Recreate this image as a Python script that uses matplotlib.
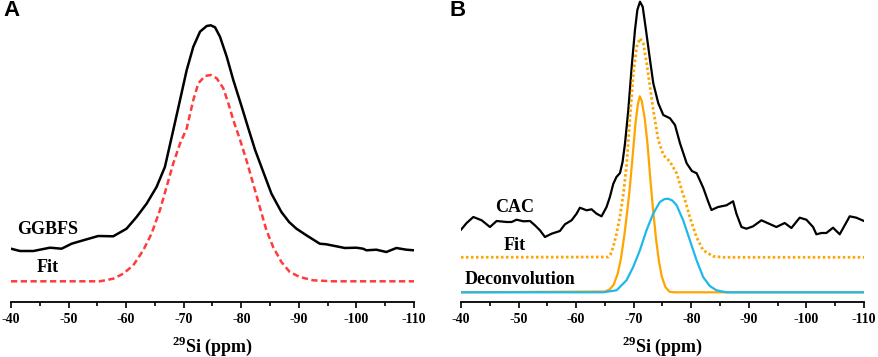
import numpy as np
import matplotlib
matplotlib.use("Agg")
import matplotlib.pyplot as plt

# ---- panel A : GGBFS ----
ggbfs_ppm = [-40.0, -41.56, -43.88, -46.77, -48.79, -50.53, -52.55, -55.16, -57.76, -60.07,
             -61.81, -63.55, -65.28, -66.73, -68.19, -69.36, -70.52, -71.67, -72.83, -73.99,
             -74.69, -75.44, -76.30, -77.47, -78.61, -80.07, -81.22, -82.40, -83.50, -85.24,
             -86.97, -88.30, -89.58, -91.31, -93.63, -94.78, -96.52, -97.97, -99.99, -101.15,
             -101.73, -103.46, -105.20, -106.94, -108.67, -110.0]
ggbfs_int = [53.3, 51.0, 51.0, 54.3, 53.3, 58.3, 61.7, 66.0, 65.7, 73.3,
             85.0, 98.3, 115.0, 135.0, 172.0, 202.0, 232.0, 255.3, 270.3, 276.0,
             276.7, 274.7, 265.3, 245.3, 222.0, 195.3, 173.7, 152.0, 135.0, 108.3,
             90.0, 80.0, 73.3, 66.7, 58.3, 57.7, 55.7, 54.0, 54.3, 53.3,
             51.7, 52.3, 50.0, 54.0, 52.3, 51.7]

fitA_ppm = [-40.0, -55.45, -57.76, -59.50, -61.23, -62.97, -64.41, -65.86, -67.02, -68.17,
            -69.33, -70.52, -71.67, -72.54, -73.70, -74.69, -75.73, -76.88, -77.75, -78.61,
            -79.20, -79.74, -80.90, -82.06, -83.21, -84.37, -85.53, -86.97, -88.42, -90.16,
            -92.47, -95.94, -110.0]
fitA_int = [20.7, 20.7, 23.3, 28.3, 36.7, 51.7, 68.3, 91.7, 115.0, 138.3,
            158.0, 173.7, 202.0, 218.7, 226.0, 227.0, 223.7, 213.7, 198.7, 182.0,
            172.0, 163.0, 141.7, 118.3, 95.0, 71.7, 55.0, 40.0, 30.0, 25.0,
            21.7, 20.7, 20.7]

# ---- panel B : CAC ----
cac_ppm = [-40.0, -40.98, -42.14, -43.59, -45.03, -46.19, -47.93, -48.79, -49.66, -50.82,
           -51.98, -52.84, -53.71, -54.58, -55.74, -57.18, -58.05, -59.21, -60.07, -60.65,
           -61.81, -62.68, -63.55, -64.41, -65.28, -65.86, -66.44, -67.00, -67.62, -68.06,
           -68.49, -69.06, -69.65, -70.22, -70.63, -71.09, -71.56, -72.13, -72.83, -73.40,
           -74.27, -75.14, -76.30, -77.17, -78.04, -79.20, -80.10, -80.94, -82.09, -82.96,
           -83.50, -84.66, -86.11, -87.26, -87.84, -88.71, -89.58, -90.74, -92.18, -94.78,
           -96.23, -97.39, -98.83, -99.99, -101.15, -101.73, -102.60, -103.46, -104.62, -105.78,
           -107.52, -108.67, -110.0]
cac_int = [72.3, 79.0, 85.0, 81.7, 75.0, 81.0, 80.0, 80.0, 82.3, 80.7,
           81.0, 76.7, 71.7, 65.0, 68.3, 71.0, 77.7, 81.7, 88.3, 94.3,
           91.7, 92.7, 88.3, 85.7, 95.0, 105.0, 118.0, 125.0, 129.0, 140.0,
           158.7, 192.0, 235.3, 272.0, 292.0, 300.3, 295.3, 272.0, 242.0, 218.7,
           198.7, 187.0, 183.7, 177.0, 158.7, 138.7, 131.0, 128.7, 114.0, 100.0,
           92.0, 95.0, 96.7, 100.7, 88.3, 75.0, 73.3, 75.7, 81.7, 75.0,
           79.0, 74.0, 84.3, 82.3, 75.0, 67.7, 69.0, 69.0, 74.3, 67.7,
           85.7, 84.3, 81.0]

fitB_ppm = [-40.0, -65.57, -66.00, -66.44, -67.00, -67.59, -68.20, -68.78, -69.36, -69.94,
            -70.52, -71.09, -71.67, -72.25, -72.83, -73.40, -74.27, -75.14, -76.30, -77.46,
            -78.33, -78.91, -79.74, -80.90, -82.06, -83.79, -85.53, -110.0]
fitB_int = [44.7, 45.0, 48.0, 55.0, 68.0, 85.0, 108.0, 138.0, 185.3, 228.7,
            255.3, 263.7, 258.7, 238.7, 215.3, 192.0, 162.0, 147.0, 140.3, 128.7,
            112.0, 102.0, 85.0, 65.0, 51.7, 45.7, 44.7, 44.7]

q2_ppm = [-40.0, -65.0, -65.8, -66.5, -67.2, -67.8, -68.4, -68.9, -69.3, -69.8,
          -70.3, -70.7, -71.05, -71.4, -71.9, -72.4, -72.9, -73.4, -73.9, -74.4,
          -74.9, -75.5, -76.2, -77.0, -110.0]
q2_int = [9.7, 10.5, 12.5, 17.0, 28.0, 44.0, 68.0, 92.0, 113.0, 145.0,
          178.0, 197.0, 205.7, 201.0, 184.0, 158.0, 122.0, 90.0, 62.0, 40.0,
          25.0, 15.0, 10.3, 9.7, 9.7]

q3_ppm = [-40.0, -64.70, -67.02, -68.75, -69.91, -71.07, -72.22, -73.38, -74.54, -75.30,
          -75.98, -76.70, -77.43, -78.59, -79.74, -80.90, -82.06, -83.21, -84.37, -86.11, -110.0]
q3_int = [9.7, 9.7, 11.7, 21.7, 35.0, 51.7, 71.7, 88.3, 100.0, 102.8,
          103.3, 101.5, 97.0, 81.7, 62.0, 42.0, 25.0, 16.0, 11.7, 9.7, 9.7]

xticks = [-40, -50, -60, -70, -80, -90, -100, -110]

plt.rcParams['font.family'] = 'Liberation Serif'
plt.rcParams['font.weight'] = 'bold'
plt.rcParams['axes.labelweight'] = 'bold'
plt.rcParams['axes.unicode_minus'] = False
plt.rcParams['mathtext.fontset'] = 'custom'
plt.rcParams['mathtext.rm'] = 'Liberation Serif:bold'
plt.rcParams['mathtext.bf'] = 'Liberation Serif:bold'

fig = plt.figure(figsize=(8.79, 3.57), dpi=100)
axA = fig.add_axes([11/879, 55/357, 403/879, 302/357])
axB = fig.add_axes([461/879, 55/357, 403/879, 302/357])

axA.plot(ggbfs_ppm, ggbfs_int, color='black', lw=1.8)
axA.plot(fitA_ppm, fitA_int, color='#FF3B3B', lw=1.8, ls=(0, (2.5, 1.4)))
axA.text(-46.3, 72, 'GGBFS', fontsize=13, ha='center', va='center')
axA.text(-46.3, 34, 'Fit', fontsize=13, ha='center', va='center')

axB.plot(cac_ppm, cac_int, color='black', lw=1.6)
axB.plot(fitB_ppm, fitB_int, color='#FFA500', lw=2.0, ls=(0, (0.9, 0.9)))
axB.plot(q2_ppm, q2_int, color='#FFA500', lw=1.6)
axB.plot(q3_ppm, q3_int, color='#1EB8EA', lw=1.6)
axB.text(-49.4, 95, 'CAC', fontsize=13, ha='center', va='center')
axB.text(-49.4, 56, 'Fit', fontsize=13, ha='center', va='center')
axB.text(-50.3, 23, 'Deconvolution', fontsize=13, ha='center', va='center')

for ax in (axA, axB):
    ax.set_xlim(-40, -110)
    ax.set_ylim(0, 302)
    for s in ('top', 'left', 'right'):
        ax.spines[s].set_visible(False)
    ax.spines['bottom'].set_linewidth(1.3)
    ax.set_yticks([])
    ax.set_xticks(xticks)
    ax.set_xticklabels([str(t) for t in xticks])
    ax.set_xticks(np.arange(-45, -110, -10), minor=True)
    ax.tick_params(axis='x', which='major', length=4.5, width=1.2, labelsize=10, pad=3.5)
    ax.tick_params(axis='x', which='minor', length=3, width=1.2)
    for lab in ax.get_xticklabels():
        lab.set_fontweight('bold')
    ax.set_xlabel(r'$^{\mathrm{29}}$Si (ppm)', fontsize=13, fontweight='bold', labelpad=6)
    ax.patch.set_alpha(0)

fig.text(3/879, 1 - 11/357, 'A', family='Liberation Sans', fontsize=16, weight='bold', va='center')
fig.text(450/879, 1 - 11/357, 'B', family='Liberation Sans', fontsize=16, weight='bold', va='center')

fig.savefig('out.png', dpi=100)
